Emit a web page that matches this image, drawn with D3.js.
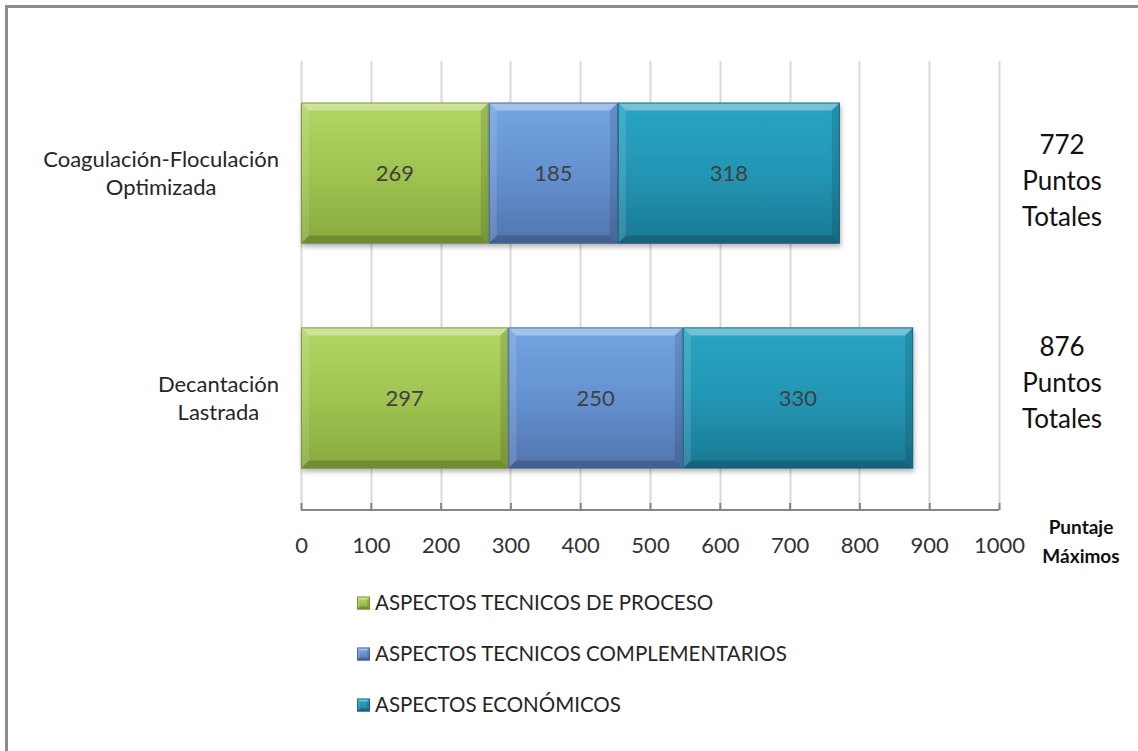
<!DOCTYPE html>
<html>
<head>
<meta charset="utf-8">
<script src="https://cdn.jsdelivr.net/npm/d3@7"></script>
<style>
  html, body { margin: 0; padding: 0; background: #ffffff; }
  svg { display: block; font-family: Lato, "Liberation Sans", sans-serif; }
</style>
</head>
<body>
<svg id="chart" width="1138" height="751"></svg>
<script>
// Alternatives evaluated (two lines per label)
const categories = [
  ["Coagulación-Floculación", "Optimizada"],
  ["Decantación", "Lastrada"]
];
// Scores per aspect
const seriesNames = [
  "ASPECTOS TECNICOS DE PROCESO",
  "ASPECTOS TECNICOS COMPLEMENTARIOS",
  "ASPECTOS ECONÓMICOS"
];
const tecnicosProceso = [269, 297];
const tecnicosComplementarios = [185, 250];
const economicos = [318, 330];
const totals = [772, 876];
const xTicks = [0, 100, 200, 300, 400, 500, 600, 700, 800, 900, 1000];
const axisTitle = ["Puntaje", "Máximos"];

const palette = [
  { top: "#b3d665", mid: "#a0c451", bot: "#88aa3d", edge: "#6f8f2c" },
  { top: "#74a5e2", mid: "#6591d1", bot: "#5274ae", edge: "#3f5d93" },
  { top: "#2aa4c3", mid: "#2396b4", bot: "#1b7994", edge: "#125f76" }
];

const svg = d3.select("#chart");
const defs = svg.append("defs");

palette.forEach((c, i) => {
  const g = defs.append("linearGradient")
    .attr("id", "grad" + i).attr("x1", 0).attr("y1", 0).attr("x2", 0).attr("y2", 1);
  g.append("stop").attr("offset", "0%").attr("stop-color", c.top);
  g.append("stop").attr("offset", "50%").attr("stop-color", c.mid);
  g.append("stop").attr("offset", "100%").attr("stop-color", c.bot);
});

const shadow = defs.append("filter").attr("id", "shadow")
  .attr("x", "-5%").attr("y", "-5%").attr("width", "110%").attr("height", "120%");
shadow.append("feDropShadow").attr("dx", 1).attr("dy", 3)
  .attr("stdDeviation", 2.5).attr("flood-color", "#000").attr("flood-opacity", 0.3);

// Outer frame
svg.append("rect").attr("x", 6.5).attr("y", 6.5)
  .attr("width", 1160).attr("height", 780)
  .attr("fill", "none").attr("stroke", "#8c8c8c").attr("stroke-width", 3);

const plot = { left: 301, right: 999, top: 61, bottom: 510 };

const x = d3.scaleLinear().domain([0, 1000]).range([plot.left, plot.right]);
const y = d3.scaleBand().domain(d3.range(categories.length))
  .range([plot.top, plot.bottom]).paddingInner(0.373).paddingOuter(0.185);

// Vertical gridlines
svg.append("g").selectAll("line").data(xTicks).join("line")
  .attr("x1", d => Math.round(x(d)) + 0.5).attr("x2", d => Math.round(x(d)) + 0.5)
  .attr("y1", plot.top).attr("y2", plot.bottom)
  .attr("stroke", "#d9d9d9").attr("stroke-width", 2);

// Horizontal axis with inward ticks
const axis = d3.axisBottom(x).tickValues(xTicks).tickFormat(d3.format("d"))
  .tickSize(0).tickPadding(0);
const axG = svg.append("g").attr("transform", `translate(0,${plot.bottom})`).call(axis);
axG.select(".domain").attr("stroke", "#868686").attr("stroke-width", 2)
  .attr("d", `M${plot.left},0H${plot.right}`);
axG.selectAll(".tick line").attr("y2", -7).attr("stroke", "#868686").attr("stroke-width", 2);
axG.selectAll(".tick text")
  .attr("y", 35).attr("dy", "0.36em")
  .attr("font-family", "Lato, sans-serif").attr("font-size", 22).attr("fill", "#333");

// Stacked series
const table = categories.map((c, i) => ({
  i,
  vals: [tecnicosProceso[i], tecnicosComplementarios[i], economicos[i]]
}));

function bevelBar(g, x0, x1, y0, y1, ci, b) {
  const c = palette[ci];
  g.append("rect").attr("x", x0).attr("y", y0).attr("width", x1 - x0).attr("height", y1 - y0)
    .attr("fill", `url(#grad${ci})`);
  // top bevel (light)
  g.append("polygon")
    .attr("points", [[x0, y0], [x1, y0], [x1 - b, y0 + b], [x0 + b, y0 + b]].join(" "))
    .attr("fill", "#ffffff").attr("opacity", 0.35);
  // left bevel
  g.append("polygon")
    .attr("points", [[x0, y0], [x0 + b, y0 + b], [x0 + b, y1 - b], [x0, y1]].join(" "))
    .attr("fill", "#ffffff").attr("opacity", 0.12);
  // right bevel (dark)
  g.append("polygon")
    .attr("points", [[x1, y0], [x1, y1], [x1 - b, y1 - b], [x1 - b, y0 + b]].join(" "))
    .attr("fill", "#000000").attr("opacity", 0.12);
  // bottom bevel (dark)
  g.append("polygon")
    .attr("points", [[x0, y1], [x1, y1], [x1 - b, y1 - b], [x0 + b, y1 - b]].join(" "))
    .attr("fill", "#000000").attr("opacity", 0.18);
  g.append("rect").attr("x", x0 + 0.5).attr("y", y0 + 0.5)
    .attr("width", x1 - x0 - 1).attr("height", y1 - y0 - 1)
    .attr("fill", "none").attr("stroke", c.edge).attr("stroke-width", 1).attr("opacity", 0.8);
}

const barsG = svg.append("g");
table.forEach(row => {
  const y0 = y(row.i), y1 = y(row.i) + y.bandwidth();
  const rg = barsG.append("g").attr("filter", "url(#shadow)");
  let acc = 0;
  row.vals.forEach((v, k) => {
    bevelBar(rg, x(acc), x(acc + v), y0, y1, k, 8);
    acc += v;
  });
  acc = 0;
  row.vals.forEach(v => {
    svg.append("text")
      .attr("x", (x(acc) + x(acc + v)) / 2).attr("y", (y0 + y1) / 2)
      .attr("dy", "0.36em").attr("text-anchor", "middle")
      .attr("font-size", 22).attr("fill", "#404040").text(v);
    acc += v;
  });
});

// Category labels: block right-aligned, lines centred within the block
categories.forEach((lines, i) => {
  const cy = y(i) + y.bandwidth() / 2;
  const t = svg.append("text").attr("font-size", 22).attr("fill", "#262626")
    .attr("text-anchor", "middle");
  const spans = lines.map((ln, j) => t.append("tspan").text(ln)
    .attr("y", cy + (j - (lines.length - 1) / 2) * 28).attr("dy", "0.36em"));
  const w = d3.max(spans, s => s.node().getComputedTextLength());
  spans.forEach(s => s.attr("x", 279 - w / 2));
});

// Totals on the right (first line baseline-centre per block)
const totalsTop = [145, 347];
totals.forEach((tot, i) => {
  const lines = [String(tot), "Puntos", "Totales"];
  const t = svg.append("text").attr("font-size", 26).attr("fill", "#111")
    .attr("text-anchor", "middle");
  lines.forEach((ln, j) => t.append("tspan").text(ln)
    .attr("x", 1062).attr("y", totalsTop[i] + j * 36).attr("dy", "0.36em"));
});

// Axis title
const at = svg.append("text").attr("font-size", 19).attr("font-weight", "bold")
  .attr("fill", "#111").attr("text-anchor", "middle");
axisTitle.forEach((ln, j) => at.append("tspan").text(ln)
  .attr("x", 1081).attr("y", 527 + j * 29).attr("dy", "0.36em"));

// Legend
const legG = svg.append("g");
seriesNames.forEach((name, k) => {
  const ly = 603 + k * 51;
  bevelBar(legG.append("g"), 357, 370, ly - 6.5, ly + 6.5, k, 3);
  legG.append("text").attr("x", 375).attr("y", ly).attr("dy", "0.36em")
    .attr("font-size", 20.5).attr("fill", "#262626").text(name);
});
</script>
</body>
</html>
